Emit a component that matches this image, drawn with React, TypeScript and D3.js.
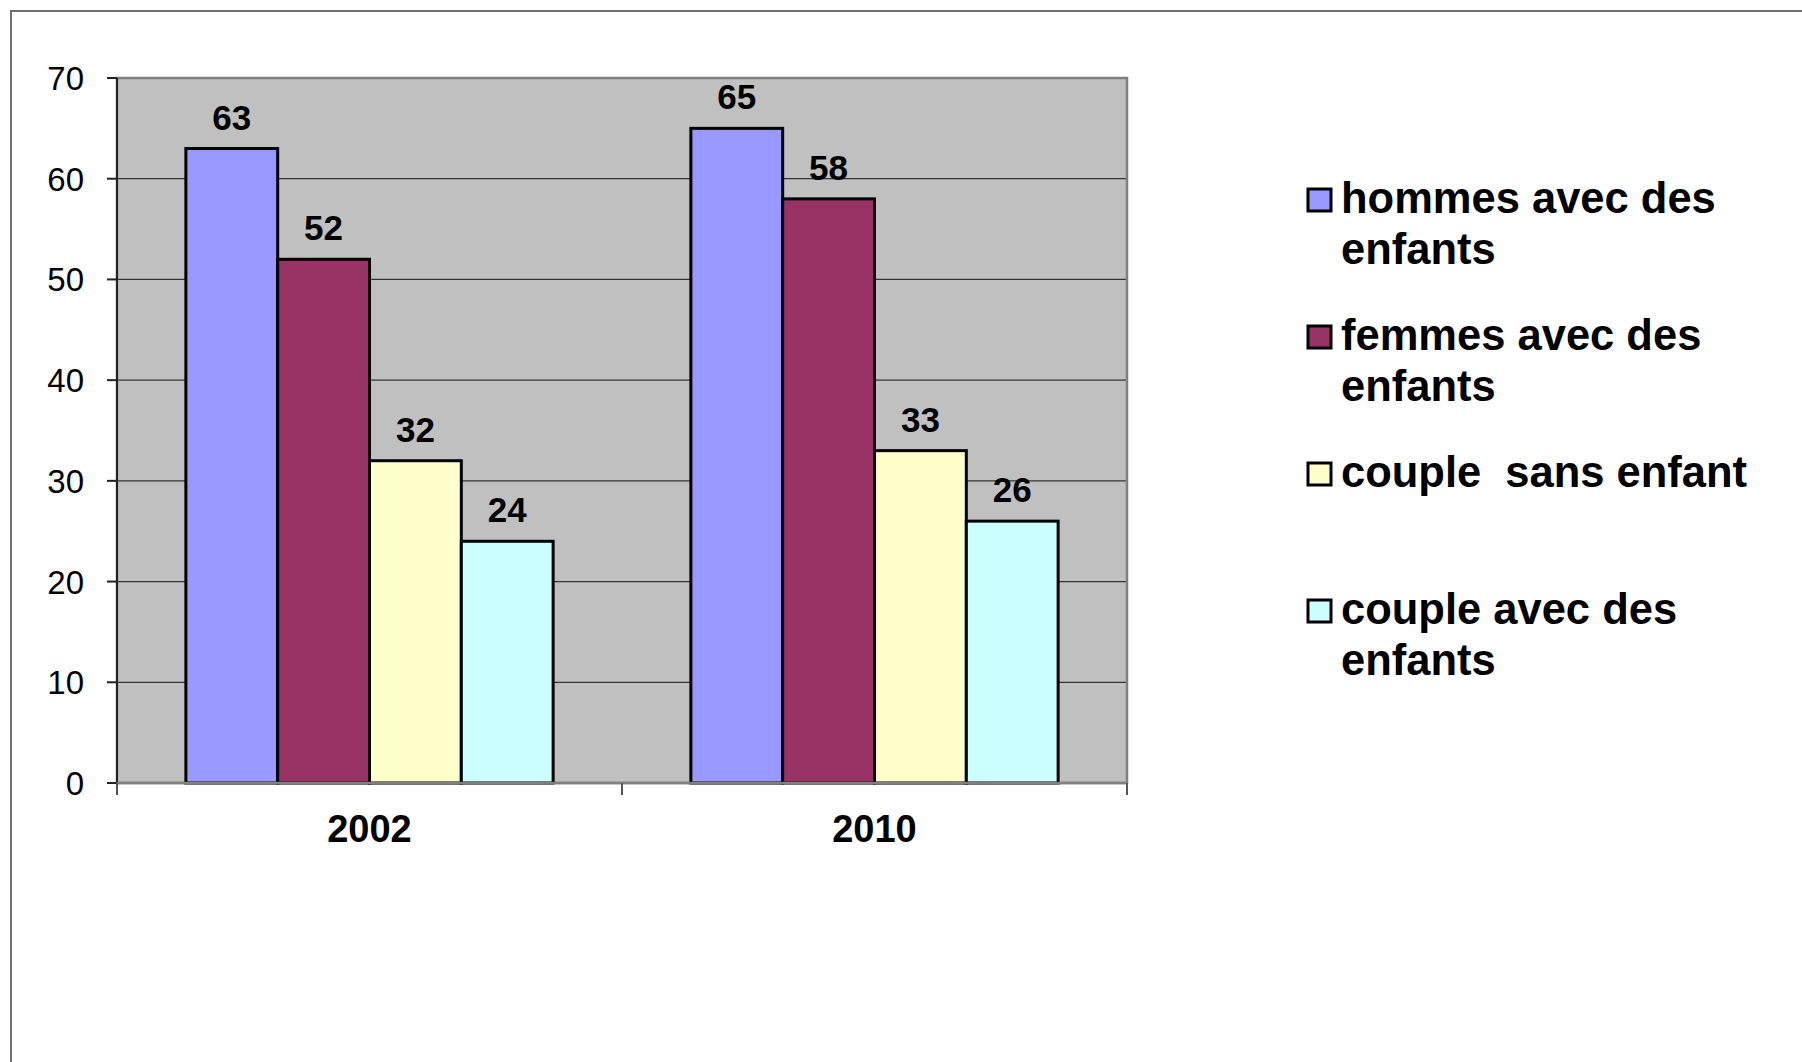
import React from 'react';
import * as d3 from 'd3';

const years = ['2002', '2010'];
const series = [
  'hommes avec des enfants',
  'femmes avec des enfants',
  'couple  sans enfant',
  'couple avec des enfants',
];
const legendLines = [
  ['hommes avec des', 'enfants'],
  ['femmes avec des', 'enfants'],
  ['couple  sans enfant'],
  ['couple avec des', 'enfants'],
];
const values2002 = [63, 52, 32, 24];
const values2010 = [65, 58, 33, 26];
const colors = ['#9999FF', '#993366', '#FFFFCC', '#CCFFFF'];
const yTicks = [0, 10, 20, 30, 40, 50, 60, 70];

const W = 1802;
const H = 1062;
const plot = { left: 117, right: 1127, top: 78, bottom: 783 };
const FONT = '"Liberation Sans", Arial, sans-serif';

export default function App() {
  const valuesByYear = [values2002, values2010];

  const x0 = d3.scaleBand().domain(years).range([plot.left, plot.right]).padding(0);
  const x1 = d3
    .scaleBand()
    .domain(series)
    .range([0, x0.bandwidth()])
    .paddingInner(0)
    .paddingOuter(0.75);
  const y = d3.scaleLinear().domain([0, 70]).range([plot.bottom, plot.top]);

  const legendTop = 213;
  const legendStep = 137;

  return (
    <svg
      width={W}
      height={H}
      style={{ position: 'absolute', left: 0, top: 0, background: '#fff' }}
      fontFamily={FONT}
    >
      {/* outer frame, runs off the right and bottom edges */}
      <path d={`M11,${H + 5} V11 H${W + 5}`} fill="none" stroke="#707070" strokeWidth={2} />

      {/* plot area */}
      <rect
        x={plot.left}
        y={plot.top}
        width={plot.right - plot.left}
        height={plot.bottom - plot.top}
        fill="#C0C0C0"
      />
      {yTicks.map((t) => (
        <line
          key={'g' + t}
          x1={plot.left}
          x2={plot.right}
          y1={y(t)}
          y2={y(t)}
          stroke="#333"
          strokeWidth={1.3}
        />
      ))}
      <rect
        x={plot.left}
        y={plot.top}
        width={plot.right - plot.left}
        height={plot.bottom - plot.top}
        fill="none"
        stroke="#808080"
        strokeWidth={2.5}
      />

      {/* bars */}
      {years.map((yr, i) => (
        <g key={yr} transform={`translate(${x0(yr)},0)`}>
          {series.map((s, j) => {
            const v = valuesByYear[i][j];
            const bx = x1(s)!;
            return (
              <g key={s}>
                <rect
                  x={bx}
                  y={y(v)}
                  width={x1.bandwidth()}
                  height={y(0) - y(v)}
                  fill={colors[j]}
                  stroke="#000"
                  strokeWidth={3}
                />
                <text
                  x={bx + x1.bandwidth() / 2}
                  y={y(v) - 19}
                  textAnchor="middle"
                  fontSize={35}
                  fontWeight="bold"
                >
                  {v}
                </text>
              </g>
            );
          })}
        </g>
      ))}

      {/* y axis */}
      <line x1={plot.left} x2={plot.left} y1={plot.top} y2={plot.bottom} stroke="#222" strokeWidth={2} />
      {yTicks.map((t) => (
        <g key={'t' + t}>
          <line x1={plot.left - 10} x2={plot.left} y1={y(t)} y2={y(t)} stroke="#222" strokeWidth={2} />
          <text x={84} y={y(t) + 12} textAnchor="end" fontSize={33}>
            {t}
          </text>
        </g>
      ))}

      {/* x axis */}
      <line x1={plot.left} x2={plot.right} y1={plot.bottom} y2={plot.bottom} stroke="#808080" strokeWidth={2.5} />
      {[...years.map((yr) => x0(yr)!), plot.right].map((tx, k) => (
        <line key={'xt' + k} x1={tx} x2={tx} y1={plot.bottom} y2={plot.bottom + 12} stroke="#555" strokeWidth={2} />
      ))}
      {years.map((yr) => (
        <text
          key={'xl' + yr}
          x={x0(yr)! + x0.bandwidth() / 2}
          y={842}
          textAnchor="middle"
          fontSize={38}
          fontWeight="bold"
        >
          {yr}
        </text>
      ))}

      {/* legend */}
      {legendLines.map((lines, i) => {
        const by = legendTop + i * legendStep;
        return (
          <g key={'lg' + i}>
            <rect x={1308} y={by - 24} width={23} height={22} fill={colors[i]} stroke="#000" strokeWidth={3} />
            <text x={1341} y={by} fontSize={43.5} fontWeight="bold" style={{ whiteSpace: 'pre' }}>
              {lines.map((ln, k) => (
                <tspan key={k} x={1341} y={by + k * 51}>
                  {ln}
                </tspan>
              ))}
            </text>
          </g>
        );
      })}
    </svg>
  );
}
